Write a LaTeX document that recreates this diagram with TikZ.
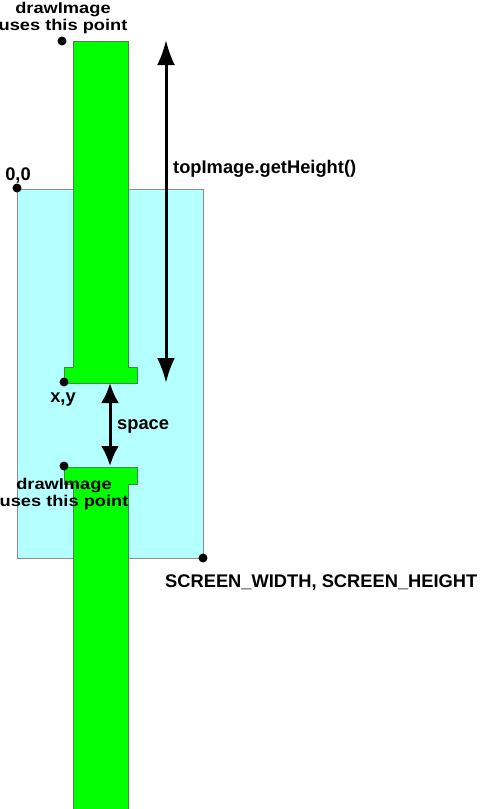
\documentclass[tikz,border=0pt]{standalone}
\usepackage{fontspec}
\setmainfont{Liberation Sans}
\newfontfamily\wideSans[FakeStretch=1.17]{Liberation Sans}
\usetikzlibrary{arrows.meta}
\definecolor{barGreen}{HTML}{00FF00}
\definecolor{barEdge}{HTML}{3C8C3C}
\definecolor{screenCyan}{HTML}{B4FFFF}
\definecolor{screenEdge}{HTML}{8C8C8C}

\begin{document}
\begin{tikzpicture}[x=1pt,y=-1pt,
  lbl/.style={font=\fontsize{18.3}{17}\selectfont\bfseries,inner sep=0pt,align=center},
  widelbl/.style={lbl,font=\wideSans\fontsize{15.6}{17}\selectfont\bfseries},
  pt/.style={circle,fill=black,inner sep=0pt,minimum size=9pt},
  dimline/.style={line width=3pt,{Latex[length=25pt,width=18pt]}-{Latex[length=25pt,width=18pt]}},
  gapline/.style={line width=3pt,{Latex[length=20pt,width=18pt]}-{Latex[length=20pt,width=18pt]}},
  bar/.style={fill=barGreen,draw=barEdge,line width=1pt}]
\useasboundingbox (0,0) rectangle (480,809);

\filldraw[fill=screenCyan,draw=screenEdge,line width=1pt] (17,189) rectangle (203,558);

\draw[bar] (73,41) -- (128,41) -- (128,367) -- (137,367) -- (137,383) -- (64,383) -- (64,367) -- (73,367) -- cycle;
\fill[barGreen] (64,467) -- (137,467) -- (137,484) -- (128,484) -- (128,809) -- (73,809) -- (73,484) -- (64,484) -- cycle;
\draw[barEdge,line width=1pt] (73,809) -- (73,484) -- (64,484) -- (64,467) -- (137,467) -- (137,484) -- (128,484) -- (128,809);

\node[pt](drawTop) at (62,41) {};
\node[pt](origin) at (17,188) {};
\node[pt](xy) at (64,382) {};
\node[pt](drawBot) at (64,466) {};
\node[pt](screenEnd) at (203,558) {};

\coordinate (hTop) at (166,40);
\coordinate (hBot) at (166,383);
\coordinate (sTop) at (110,383);
\coordinate (sBot) at (110,466);

\draw[dimline] (hTop) -- (hBot);
\draw[gapline] (sTop) -- (sBot);

\node[widelbl,anchor=base](drawTopLbl) at (63,30) {drawImage\\uses this point};
\node[lbl,anchor=base](originLbl) at (18,180) {0,0};
\node[lbl,anchor=base west](heightLbl) at (173,173) {topImage.getHeight()};
\node[lbl,anchor=base](xyLbl) at (63,402) {x,y};
\node[lbl,anchor=base west](spaceLbl) at (117,429) {space};
\node[widelbl,anchor=base](drawBotLbl) at (64,506) {drawImage\\uses this point};
\node[lbl,anchor=base west](screenLbl) at (165,587) {SCREEN\_WIDTH, SCREEN\_HEIGHT};
\end{tikzpicture}
\end{document}
